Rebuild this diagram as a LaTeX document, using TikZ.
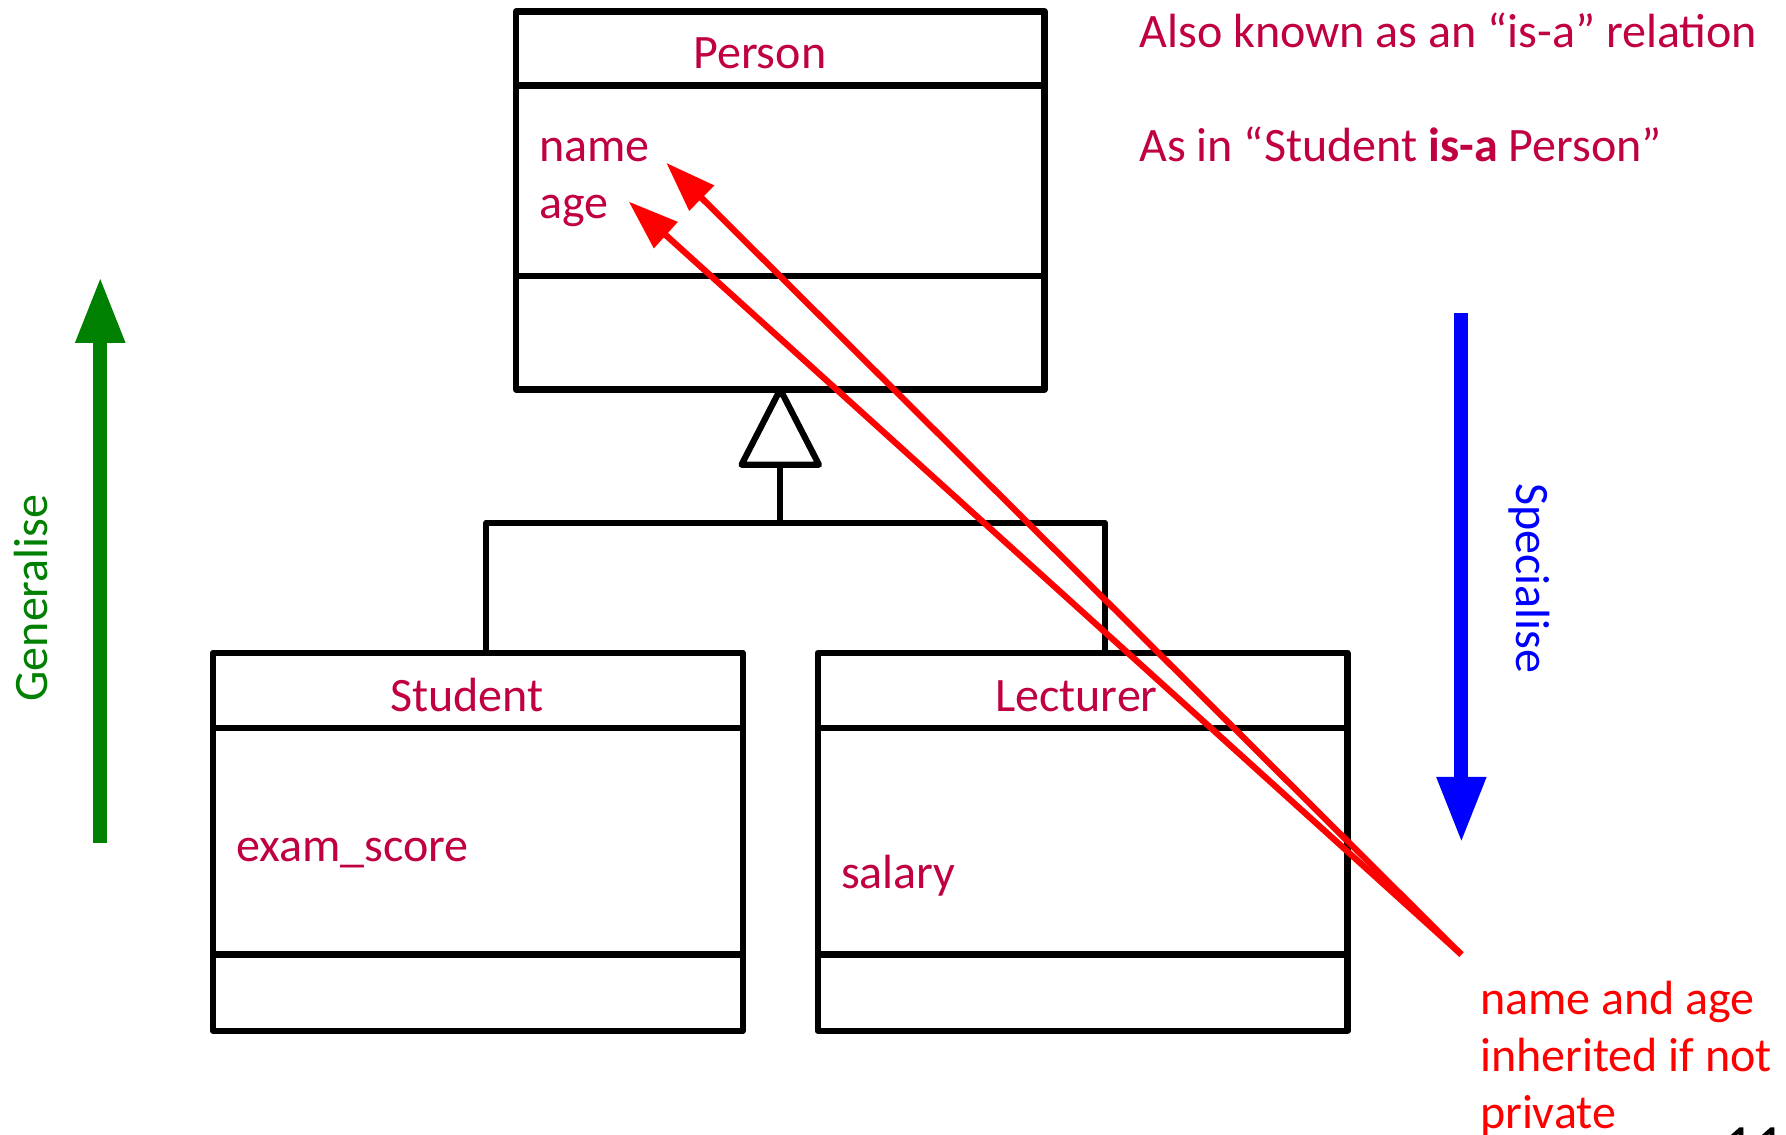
\documentclass[tikz,border=0pt]{standalone}
\usepackage{fontspec}
\setmainfont{Carlito}
\usetikzlibrary{arrows.meta}
\definecolor{umltext}{RGB}{192,0,67}
\definecolor{gengreen}{RGB}{0,128,0}
\begin{document}
\begin{tikzpicture}[x=0.02cm, y=-0.02cm, line join=round,
    classbox/.style={draw, line width=3.1pt, outer sep=0pt, minimum width=9.3cm, minimum height=6.64cm, inner sep=0pt},
    uml/.style={line width=3.1pt},
    label/.style={text=umltext, font=\fontsize{24}{28.5}\selectfont, inner sep=0pt},
    inherit/.style={red, line width=3.1pt, -{Triangle[length=25pt, width=17pt]}},
    bigarrow/.style={line width=7pt, -{Triangle[length=33pt, width=23pt]}}]
        \fill[white] (0,0) rectangle (1568,996);
        \useasboundingbox (0,0) rectangle (1568,996);

        \node[classbox, minimum width=9.28cm] (person) at (685,176) {};
        \node[classbox] (student) at (419.5,739) {};
        \node[classbox] (lecturer) at (950.5,739) {};
        \draw[uml] ([yshift=-1.3cm]person.north west) -- ([yshift=-1.3cm]person.north east);
        \draw[uml] ([yshift=-4.64cm]person.north west) -- ([yshift=-4.64cm]person.north east);
        \foreach \c in {student, lecturer} {
            \draw[uml] ([yshift=-1.32cm]\c.north west) -- ([yshift=-1.32cm]\c.north east);
            \draw[uml] ([yshift=-5.3cm]\c.north west) -- ([yshift=-5.3cm]\c.north east);
        }

        \node[label, anchor=base] (persontitle) at (667,60) {Person};
        \node[label, anchor=base west] (name) at (473,142) {name};
        \node[label, anchor=base west] (age) at (473,192) {age};
        \node[label, anchor=base] (studenttitle) at (410,625) {Student};
        \node[label, anchor=base] (lecturertitle) at (945,625) {Lecturer};
        \node[label, anchor=base west] (examscore) at (207,756) {exam\_score};
        \node[label, anchor=base west] (salary) at (738,780) {salary};
        \node[label, anchor=base west] (alsoknown) at (1000,42) {Also known as an “is-a” relation};
        \node[label, anchor=base west] (asin) at (1000,142) {As in “Student \textbf{is-a} Person”};

        \coordinate (fork) at (685,459);
        \coordinate (stujoin) at (427,573);
        \coordinate (lecjoin) at (970,573);
        \draw[uml, fill=white] (person.south) -- (719,408) -- (651,408) -- cycle;
        \draw[uml] (fork) -- (685,408);
        \draw[uml] (stujoin) |- (lecjoin |- fork) -- (lecjoin);

        \coordinate (genbottom) at (88,740);
        \coordinate (gentop) at (88,243);
        \draw[bigarrow, gengreen] (genbottom) -- (gentop);
        \node[label, text=gengreen, rotate=90] (generalise) at (27,525) {Generalise};
        \coordinate (spectop) at (1283,275);
        \coordinate (specbottom) at (1283,740);
        \draw[bigarrow, blue] (spectop) -- (specbottom);
        \node[label, text=blue, rotate=-90] (specialise) at (1343,508) {Specialise};

        \coordinate (noteorigin) at (1283,838);
        \coordinate (nametip) at (585,143);
        \coordinate (agetip) at (552,177);
        \draw[inherit] (noteorigin) -- (nametip);
        \draw[inherit] (noteorigin) -- (agetip);
        \node[label, text=red, align=left, anchor=north west] (note) at (1299,861) {name and age\\inherited if not\\private};

        \node[anchor=north west, inner sep=0pt, font=\fontsize{30}{36}\selectfont] (pagenum) at (1513,990) {11};

    \end{tikzpicture}
\end{document}
